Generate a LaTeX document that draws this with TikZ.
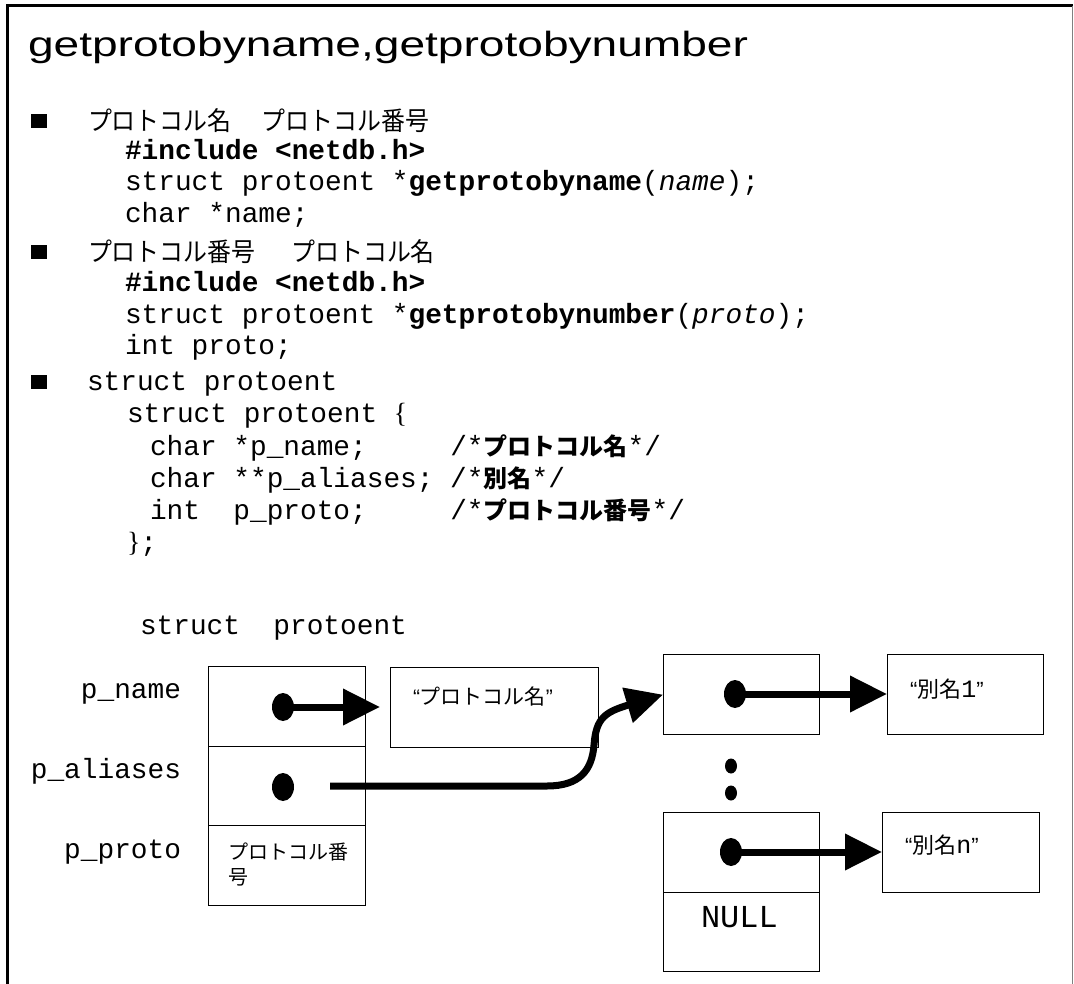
\documentclass[tikz,border=0pt]{standalone}
\usepackage{fontspec}
\usepackage{graphicx}
\usetikzlibrary{arrows.meta,shapes.geometric}
\setmainfont{Liberation Sans}
\newfontfamily\mono{Liberation Mono}
\newfontfamily\jp{Noto Sans CJK JP}
\newfontfamily\brc{Liberation Serif}

\newcommand\codesize{\fontsize{27.8pt}{32pt}\selectfont}
\newcommand\jpsize{\fontsize{24pt}{28pt}\selectfont}
\newcommand\headsize{\fontsize{26pt}{30pt}\selectfont}

\tikzset{
  txt/.style={anchor=base west, inner sep=0pt, outer sep=0pt},
  code/.style={txt, font=\mono\codesize},
  codeR/.style={anchor=base east, inner sep=0pt, outer sep=0pt, font=\mono\codesize},
  head/.style={txt, font=\jp\headsize},
  bul/.style={rectangle, fill=black, minimum width=16pt, minimum height=14pt, inner sep=0pt},
  cellbox/.style={draw, line width=1.3pt, rectangle, inner sep=0pt, anchor=north west},
  dot/.style={ellipse, fill=black, minimum width=22pt, minimum height=28pt, inner sep=0pt},
  smalldot/.style={ellipse, fill=black, minimum width=12pt, minimum height=15pt, inner sep=0pt},
  arr/.style={line width=7pt, -{Triangle[length=37pt,width=35pt]}},
  frame/.style={line width=2.7pt},
}

\begin{document}
\begin{tikzpicture}[x=1pt,y=-1pt]
\useasboundingbox (0,0) rectangle (1074,984);

% outer frame (open at the bottom)
\draw[frame] (6,5.3) -- (1073,5.3);
\draw[frame] (7.3,5) -- (7.3,984);
\draw[line width=1.2pt, black!50] (1072.8,6.5) -- (1072.8,984);

% title
\node[txt, font=\fontsize{35pt}{40pt}\selectfont] (title) at (28,57)
  {\resizebox{720pt}{\height}{getprotobyname,getprotobynumber}};

% first item
\node[bul] (b1) at (38.5,121) {};
\node[head] (h1) at (88,131) {\scalebox{0.92}[1]{プロトコル名\hspace{32.6pt}プロトコル番号}};
\node[code] (l1) at (125,160) {\bfseries \#include <netdb.h>};
\node[code] (l2) at (125,191) {struct protoent *{\bfseries getprotobyname}({\itshape name});};
\node[code] (l3) at (125,223) {char *name;};

% second item
\node[bul] (b2) at (38.5,252) {};
\node[head] (h2) at (88,262) {\scalebox{0.92}[1]{プロトコル番号\hspace{39pt}プロトコル名}};
\node[code] (l4) at (125,292) {\bfseries \#include <netdb.h>};
\node[code] (l5) at (125,324) {struct protoent *{\bfseries getprotobynumber}({\itshape proto});};
\node[code] (l6) at (125,355) {int proto;};

% third item
\node[bul] (b3) at (38.5,382) {};
\node[code] (l7) at (87,390) {struct protoent};
\node[code] (l8) at (127,422) {struct protoent {\brc\{}};
\node[code] (l9) at (150,455) {char *p\_name;~~~~~/*{\jp\jpsize\bfseries プロトコル名}*/};
\node[code] (l10) at (150,487) {char **p\_aliases;~/*{\jp\jpsize\bfseries 別名}*/};
\node[code] (l11) at (150,519) {int~~p\_proto;~~~~~/*{\jp\jpsize\bfseries プロトコル番号}*/};
\node[code] (l12) at (127,551) {{\brc\}};};

% structure diagram
\node[code] (stitle) at (140,634) {struct~~protoent};
\node[codeR] (fname) at (181,698) {p\_name};
\node[codeR] (falias) at (181,778) {p\_aliases};
\node[codeR] (fproto) at (181,858) {p\_proto};

\node[cellbox, minimum width=157pt, minimum height=80pt] (sname) at (208,666) {};
\node[cellbox, minimum width=157pt, minimum height=79pt] (salias) at (208,746) {};
\node[cellbox, minimum width=157pt, minimum height=80pt] (sproto) at (208,825) {};
\node[anchor=north west, inner sep=0pt, align=left, font=\jp\fontsize{20pt}{25pt}\selectfont]
  (protonum) at (228,843) {プロトコル番\\号};

\node[cellbox, minimum width=208pt, minimum height=80pt] (pname) at (390,667) {};
\node[txt, font=\fontsize{21pt}{24pt}\selectfont] (pnametxt) at (413,704) {“{\jp プロトコル名}”};

\node[cellbox, minimum width=156pt, minimum height=80pt] (listA) at (663,654) {};
\node[cellbox, minimum width=156pt, minimum height=80pt] (listB) at (663,812) {};
\node[cellbox, minimum width=156pt, minimum height=79pt] (listN) at (663,892) {};
\node[txt, font=\mono\fontsize{32pt}{36pt}\selectfont] (nulltxt) at (701,927) {NULL};

\node[cellbox, minimum width=156pt, minimum height=80pt] (alias1) at (887,654) {};
\node[cellbox, minimum width=157pt, minimum height=80pt] (aliasn) at (882,812) {};
\node[txt, font=\fontsize{22pt}{26pt}\selectfont] (a1txt) at (910,697)
  {“{\jp 別名}{\mono\fontsize{25pt}{28pt}\selectfont 1}”};
\node[txt, font=\fontsize{22pt}{26pt}\selectfont] (antxt) at (905,853)
  {“{\jp 別名}{\mono\fontsize{25pt}{28pt}\selectfont n}”};

% pointer dots
\node[dot] (d1) at (283,707) {};
\node[dot] (d2) at (283,787) {};
\node[dot] (d3) at (735,694) {};
\node[dot] (d4) at (731,852) {};
\node[smalldot] (e1) at (731,766) {};
\node[smalldot] (e2) at (731,793) {};

% pointers
\coordinate (t1) at (380,707);
\coordinate (s2) at (330,786);
\coordinate (k2) at (547,786);
\draw[arr] (d1.center) -- (t1);
\draw[arr] (s2) -- (k2) .. controls (580,786) and (592,770) .. (594,745)
  .. controls (596,718) and (605,712) .. (listA.west);
\draw[arr] (d3.center) -- (alias1.west |- d3.center);
\draw[arr] (d4.center) -- (aliasn.west |- d4.center);
\end{tikzpicture}
\end{document}
